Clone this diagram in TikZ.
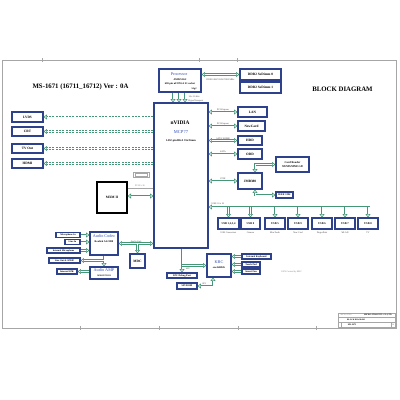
\documentclass[tikz,border=0pt]{standalone}
\usepackage{fontspec}
\setmainfont{Liberation Serif}
\usetikzlibrary{arrows.meta}
\definecolor{navy}{RGB}{45,65,140}
\definecolor{busc}{RGB}{70,150,120}
\definecolor{tblue}{RGB}{50,80,180}
\newcommand{\fs}[1]{\fontsize{#1}{#1}\selectfont}
\begin{document}
\begin{tikzpicture}[x=1pt,y=-1pt,
  blk/.style={draw=navy, line width=1.1pt, fill=white, inner sep=0pt, font=\fs{3.4}\bfseries, align=center},
  bus/.style={draw=busc, double=white, double distance=1pt, line width=0.6pt},
  dbus/.style={bus, dash pattern=on 2pt off 1.3pt},
  >={Triangle[open,length=3.4pt,width=5pt]},
  lbl/.style={font=\fs{2.3}, inner sep=0.4pt, text=black!75},
  ttl/.style={font=\fs{4.2}, text=tblue}]
\useasboundingbox (0,0) rectangle (400,400);
\fill[white] (0,0) rectangle (400,400);
% frame
\draw[gray!70, line width=0.8pt] (2,60) rectangle (396,328);
\foreach \x in {42,199,237} \draw[gray!70, line width=0.5pt] (\x,58) -- (\x,62);
\foreach \x in {80,159,238,316} \draw[gray!70, line width=0.5pt] (\x,326) -- (\x,330);
% title block
\draw[gray!70, line width=0.5pt] (338,313) rectangle (395,327);
\draw[gray!70, line width=0.4pt] (338,317.5) -- (395,317.5) (338,322) -- (395,322) (391,322) -- (391,327) (341,322) -- (341,327);
\node[font=\fs{1.8}, text=gray] at (346,315.2) {MICRO-STAR};
\node[font=\fs{2}\bfseries] at (378,315.2) {MICRO-STAR INT'L CO.,LTD.};
\node[font=\fs{2}\bfseries] at (356,319.8) {BLOCK DIAGRAM};
\node[font=\fs{2.2}\bfseries] at (352,324.5) {MS-1671};
\node[font=\fs{2}\bfseries] at (393,324.5) {1};
% titles
\node[font=\fs{6.8}\bfseries] at (80.5,87) {MS-1671 (16711\_16712) Ver : 0A};
\node[font=\fs{6.8}\bfseries] at (342.5,89) {BLOCK DIAGRAM};
% boxes
\node[blk, minimum width=31pt, minimum height=10pt] (lvds) at (27.5,117) {LVDS};
\node[blk, minimum width=31pt, minimum height=9pt] (crt) at (27.5,131.5) {CRT};
\node[blk, minimum width=31pt, minimum height=9pt] (tvout) at (27.5,148.5) {TV Out};
\node[blk, minimum width=31pt, minimum height=9pt] (hdmi) at (27.5,163.5) {HDMI};
\node[blk, minimum width=42pt, minimum height=23pt] (proc) at (180,80.5) {};
\node[ttl] at (179,74) {Processor};
\node[font=\fs{2.6}\bfseries] at (180,79.5) {AMD/S1G2};
\node[font=\fs{2.6}\bfseries] at (180,84) {638-pin uFCPGA S1 socket};
\node[font=\fs{2.4}\bfseries, anchor=east] at (200,88.5) {S1g2};
\node[blk, minimum width=41pt, minimum height=11pt] (ddr0) at (260.5,74.5) {DDR2 SoDimm 0};
\node[blk, minimum width=41pt, minimum height=11pt] (ddr1) at (260.5,87.5) {DDR2 SoDimm 1};
\node[blk, minimum width=54pt, minimum height=145pt] (mcp) at (181,175.5) {};
\node[font=\fs{5.4}\bfseries] at (180,123) {nVIDIA};
\node[font=\fs{4.5}, text=tblue] at (181,132) {MCP77};
\node[font=\fs{2.8}\bfseries] at (181,141) {1432-pin BGA 35x35mm};
\node[blk, minimum width=29pt, minimum height=10pt] (lan) at (252.5,112) {LAN};
\node[blk, minimum width=27pt, minimum height=10pt] (newcard) at (251.5,126) {NewCard};
\node[blk, minimum width=24pt, minimum height=9pt] (hdd) at (250,140.5) {HDD};
\node[blk, minimum width=24pt, minimum height=10pt] (odd) at (250,154) {ODD};
\node[blk, minimum width=33pt, minimum height=15pt, font=\fs{2.8}\bfseries] (cardr) at (292.5,164.5) {Card Reader\\[1.5pt]SD/MS/MMC/xD};
\node[blk, minimum width=24pt, minimum height=16pt] (jmb) at (250,181) {JMB380};
\node[blk, minimum width=17pt, minimum height=6pt, font=\fs{2.6}\bfseries] (ieee) at (284.5,195) {IEEE 1394};
\foreach \n/\x/\w/\t/\s in {u1/228.5/21/{USB 1,2,3,4}/USB Connectors, u2/250.5/19/USB 0/Camera, u3/275/20/USB 5/BlueTooth, u4/298/20/USB 9/New Card, u5/322/20/USB 6/FingerPrint, u6/345/20/USB 7/WLAN, u7/368/20/USB 8/TV}{
  \node[blk, minimum width=\w pt, minimum height=11pt, font=\fs{2.8}\bfseries] (\n) at (\x,223.5) {\t};
  \node[lbl] at (\x,233) {\s};
}
\node[draw=black, line width=1.2pt, fill=white, minimum width=30pt, minimum height=31pt, inner sep=0pt, font=\fs{3.4}\bfseries] (mxm) at (112,197.5) {MXM II};
\node[blk, minimum width=28pt, minimum height=23pt] (codec) at (104,243.5) {};
\node[ttl] at (104,236) {Audio Codec};
\node[font=\fs{2.6}\bfseries] at (104,241.5) {Realtek ALC888};
\node[blk, minimum width=24pt, minimum height=4.5pt, font=\fs{2.4}\bfseries] (mic) at (68,235) {Microphone In};
\node[blk, minimum width=15pt, minimum height=4.5pt, font=\fs{2.4}\bfseries] (linein) at (72.5,242) {Line In};
\node[blk, minimum width=33pt, minimum height=5pt, font=\fs{2.4}\bfseries] (intmic) at (63.5,250.5) {Internal Microphone};
\node[blk, minimum width=31pt, minimum height=5pt, font=\fs{2.4}\bfseries] (lineout) at (64.5,260.5) {Line Out \& SPDIF};
\node[blk, minimum width=20pt, minimum height=5pt, font=\fs{2.4}\bfseries] (intspk) at (67,271.5) {Internal SPK};
\node[blk, minimum width=28pt, minimum height=12pt] (amp) at (104,273) {};
\node[ttl] at (104,270.5) {Audio AMP};
\node[font=\fs{2.2}\bfseries] at (104,276) {APA2057/2031};
\node[blk, minimum width=15pt, minimum height=14pt] (mdc) at (137.5,261) {MDC};
\node[blk, minimum width=24pt, minimum height=23pt] (kbc) at (219,265.5) {};
\node[ttl] at (219,262) {KBC};
\node[font=\fs{2.6}\bfseries] at (219,268) {ene KB926};
\node[blk, minimum width=29pt, minimum height=5pt, font=\fs{2.5}\bfseries] (kb) at (256.5,256.5) {Internal Keyboard};
\node[blk, minimum width=18pt, minimum height=5pt, font=\fs{2.5}\bfseries] (tp) at (251,264.5) {Touch Pad};
\node[blk, minimum width=18pt, minimum height=5pt, font=\fs{2.5}\bfseries] (fan) at (251,271.5) {Smart Fan};
\node[lbl, anchor=west, text=gray] at (281,271.5) {FAN Control by KBC};
\node[blk, minimum width=30pt, minimum height=5pt, font=\fs{2.5}\bfseries] (lpcdbg) at (182,275.5) {LPC Debug Port};
\node[blk, minimum width=20pt, minimum height=6pt, font=\fs{2.5}\bfseries] (spi) at (187,286) {SPI ROM};
% connectors: display
\foreach \n in {lvds,crt,tvout,hdmi} \draw[dbus,->] (mcp.west |- \n.east) -- (\n.east);
% processor
\draw[bus,<->] (proc.east |- ddr0.west) -- (ddr0.west);
\node[lbl] at (220.5,80) {DDR2 400/533/667/800 MHz};
\foreach \s in {-7,-1,5} \draw[bus,->] ([xshift=\s pt]proc.south) -- ([xshift=\s pt]proc.south |- mcp.north);
\node[lbl, anchor=west] at (188,96.5) {16 x 16 bits};
\node[lbl, anchor=west] at (188,101) {HyperTransport};
% right side
\foreach \n/\l in {lan/PCI-Express, newcard/PCI-Express, hdd/SATA 300MB/s, odd/SATA}
  \draw[bus,<->] (mcp.east |- \n.west) -- (\n.west) node[midway, above=0.6pt, lbl] {\l};
\draw[bus,<->] (mcp.east |- jmb.west) -- (jmb.west) node[midway, above=0.6pt, lbl] {PCIE};
\draw[bus,<->] ([xshift=5pt]jmb.north) |- (cardr.west);
\draw[bus,<->] ([xshift=5pt]jmb.south) |- (ieee.west);
% USB
\coordinate (usbend) at (370,207);
\draw[bus,<-] (usbend -| mcp.east) -- (usbend);
\node[lbl, anchor=west] at (211,204) {USB 2.0 x 10};
\foreach \n in {u1,u2,u3,u4,u5,u6,u7} \draw[bus,->] (\n.north |- usbend) -- (\n.north);
% MXM
\coordinate (m1) at ([yshift=9.5pt]mxm.east);
\coordinate (m2) at ([yshift=1.5pt]mxm.east);
\draw[gray!70, line width=0.7pt] (m1) -- (m1 -| mcp.west);
\node[lbl, text=gray] at (140,185.5) {PCI-E x16};
\draw[bus,<->] (m2) -- (m2 -| mcp.west);
\node[draw=gray!70, line width=0.5pt, minimum width=16pt, minimum height=5pt, inner sep=0pt] (leg) at (141,174.5) {};
\draw[gray!70, line width=0.4pt] ([xshift=2pt,yshift=-1.2pt]leg.north west) rectangle ([xshift=-2pt,yshift=1.2pt]leg.south east);
% audio
\draw[bus,<->] (codec.east) -- (codec.east -| mcp.west) node[midway, above=0.6pt, lbl] {Azalia Link};
\draw[bus,->] (mdc.north |- codec.east) -- (mdc.north);
\foreach \n in {mic,linein,intmic} \draw[bus,->] (\n.east) -- (\n.east -| codec.west);
\draw[bus,->] (codec.south) -- (amp.north);
\draw[bus,->] (codec.south |- lineout.east) -- (lineout.east);
\draw[bus,->] (amp.west |- intspk.east) -- (intspk.east);
% KBC
\draw[bus,->] (lpcdbg.north |- mcp.south) -- (lpcdbg.north);
\draw[bus,->] (lpcdbg.north |- kbc.west) -- (kbc.west);
\node[lbl] at (188,268.5) {LPC};
\draw[bus,<->] (spi.east) -| ([xshift=-6pt]kbc.south);
\node[lbl] at (204,283.5) {SPI};
\foreach \n in {kb,tp,fan} \draw[bus,->] (\n.west) -- (\n.west -| kbc.east);
\end{tikzpicture}
\end{document}
